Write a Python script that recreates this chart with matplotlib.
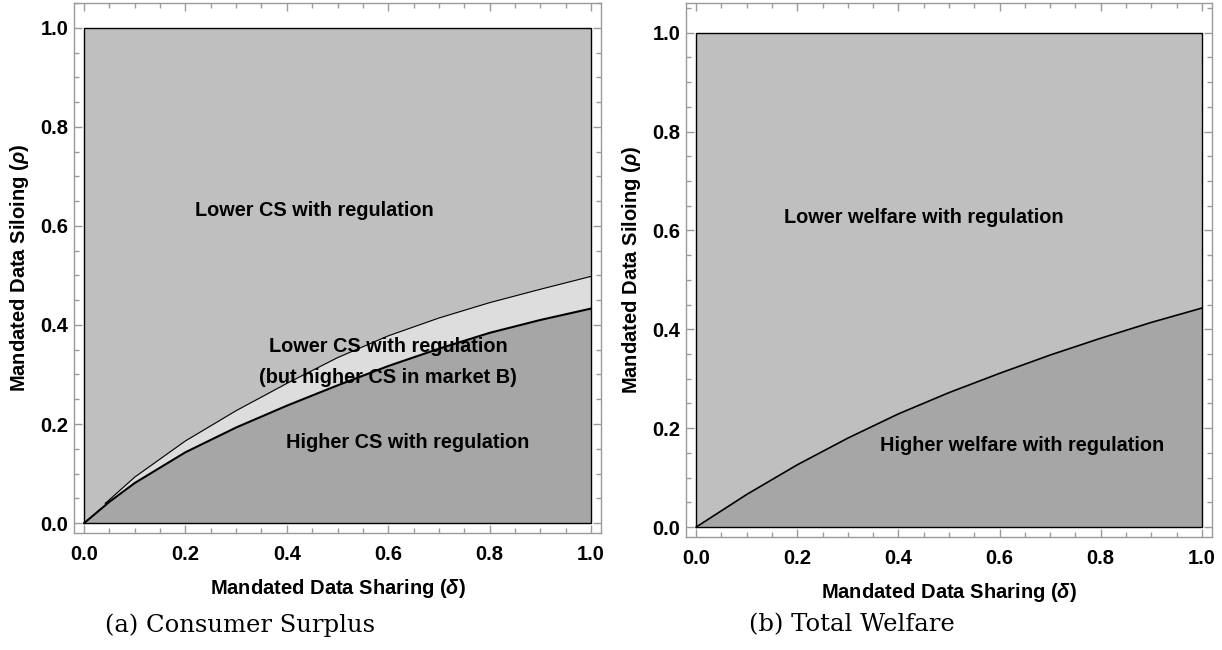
import numpy as np
import matplotlib
matplotlib.use("Agg")
import matplotlib.pyplot as plt
from matplotlib.ticker import MultipleLocator

plt.rcParams['font.family'] = ['Liberation Sans', 'DejaVu Sans']
plt.rcParams['mathtext.fontset'] = 'custom'
plt.rcParams['mathtext.rm'] = 'Liberation Sans:bold'
plt.rcParams['mathtext.it'] = 'Liberation Sans:italic:bold'
plt.rcParams['mathtext.bf'] = 'Liberation Sans:bold'

# ---- data ----
domain_x = [0.0, 1.0]

# Panel (a): consumer surplus boundaries
cs_low_x = [0.0, 0.05, 0.1, 0.2, 0.3, 0.4, 0.5, 0.6, 0.7, 0.8, 0.9, 1.0]
cs_low_y = [0.0, 0.043, 0.081, 0.143, 0.193, 0.237, 0.278, 0.317, 0.352, 0.384, 0.41, 0.433]
cs_up_x = [0.042, 0.1, 0.2, 0.3, 0.4, 0.5, 0.6, 0.7, 0.8, 0.9, 1.0]
cs_up_y = [0.040, 0.093, 0.166, 0.227, 0.282, 0.334, 0.378, 0.414, 0.445, 0.472, 0.498]

# Panel (b): total welfare boundary
tw_x = [0.0, 0.1, 0.2, 0.3, 0.4, 0.5, 0.6, 0.7, 0.8, 0.9, 1.0]
tw_y = [0.0, 0.066, 0.126, 0.18, 0.229, 0.272, 0.311, 0.348, 0.382, 0.414, 0.443]

ticks = [0.0, 0.2, 0.4, 0.6, 0.8, 1.0]
tick_labels = ["0.0", "0.2", "0.4", "0.6", "0.8", "1.0"]

xlabel = r"Mandated Data Sharing ($\delta$)"
ylabel = r"Mandated Data Siloing ($\rho$)"
captions = ["(a) Consumer Surplus", "(b) Total Welfare"]

c_light = "#bfbfbf"
c_dark = "#a6a6a6"
c_band = "#dddddd"
frame_c = "#9a9a9a"

fig = plt.figure(figsize=(12.22, 6.5), dpi=100)
axA = fig.add_axes([74/1222, 1-533/650, 527/1222, 530/650])
axB = fig.add_axes([686/1222, 1-537/650, 526/1222, 534/650])


def style(ax, ylim_top):
    ax.set_xlim(-0.02, 1.02)
    ax.set_ylim(-0.02, ylim_top)
    for s in ax.spines.values():
        s.set_color(frame_c)
        s.set_linewidth(1.0)
    ax.xaxis.set_minor_locator(MultipleLocator(0.05))
    ax.yaxis.set_minor_locator(MultipleLocator(0.05))
    ax.set_xticks(ticks)
    ax.set_xticklabels(tick_labels)
    ax.set_yticks(ticks)
    ax.set_yticklabels(tick_labels)
    ax.tick_params(which='both', direction='in', top=True, right=True,
                   color=frame_c, width=1.0)
    ax.tick_params(which='major', length=6)
    ax.tick_params(which='minor', length=3.5)
    ax.tick_params(axis='x', which='major', pad=9, labelsize=14.5)
    ax.tick_params(axis='y', which='major', pad=4, labelsize=14.5)
    for lab in ax.get_xticklabels() + ax.get_yticklabels():
        lab.set_fontweight('bold')
    ax.set_xlabel(xlabel, fontsize=14.5, fontweight='bold', labelpad=9)
    ax.set_ylabel(ylabel, fontsize=14.5, fontweight='bold', labelpad=7)


# ---- Panel (a) ----
ax = axA
ax.fill_between(domain_x, 0, 1, color=c_light, lw=0, zorder=1)
ax.fill_between(cs_low_x, 0, cs_low_y, color=c_dark, lw=0, zorder=2)
band_low = np.interp(cs_up_x, cs_low_x, cs_low_y)
ax.fill_between(cs_up_x, band_low, cs_up_y, color=c_band, lw=0, zorder=2)
ax.plot(cs_low_x, cs_low_y, color='black', lw=1.5, zorder=4)
ax.plot(cs_up_x, cs_up_y, color='black', lw=0.8, zorder=4)
ax.plot([cs_up_x[0], cs_up_x[0] + 0.015],
        [cs_up_y[0], np.interp(cs_up_x[0] + 0.015, cs_low_x, cs_low_y)],
        color='black', lw=0.8, zorder=4)
ax.plot([0, 1, 1, 0, 0], [0, 0, 1, 1, 0], color='black', lw=1.0, zorder=5)
ax.text(0.455, 0.632, "Lower CS with regulation", ha='center', va='center',
        fontsize=14.3, fontweight='bold', zorder=6)
ax.text(0.600, 0.325, "Lower CS with regulation\n(but higher CS in market B)",
        ha='center', va='center', fontsize=14.3, fontweight='bold',
        linespacing=1.75, zorder=6)
ax.text(0.638, 0.163, "Higher CS with regulation", ha='center', va='center',
        fontsize=14.3, fontweight='bold', zorder=6)
style(ax, 1.05)

# ---- Panel (b) ----
ax = axB
ax.fill_between(domain_x, 0, 1, color=c_light, lw=0, zorder=1)
ax.fill_between(tw_x, 0, tw_y, color=c_dark, lw=0, zorder=2)
ax.plot(tw_x, tw_y, color='black', lw=1.2, zorder=4)
ax.plot([0, 1, 1, 0, 0], [0, 0, 1, 1, 0], color='black', lw=1.0, zorder=5)
ax.text(0.45, 0.627, "Lower welfare with regulation", ha='center', va='center',
        fontsize=14.3, fontweight='bold', zorder=6)
ax.text(0.645, 0.166, "Higher welfare with regulation", ha='center', va='center',
        fontsize=14.3, fontweight='bold', zorder=6)
style(ax, 1.06)

fig.text(240/1222, 1-625/650, captions[0], ha='center', va='center',
         fontsize=17.5, family='DejaVu Serif')
fig.text(852/1222, 1-625/650, captions[1], ha='center', va='center',
         fontsize=17.5, family='DejaVu Serif')

fig.savefig("out.png", dpi=100)
